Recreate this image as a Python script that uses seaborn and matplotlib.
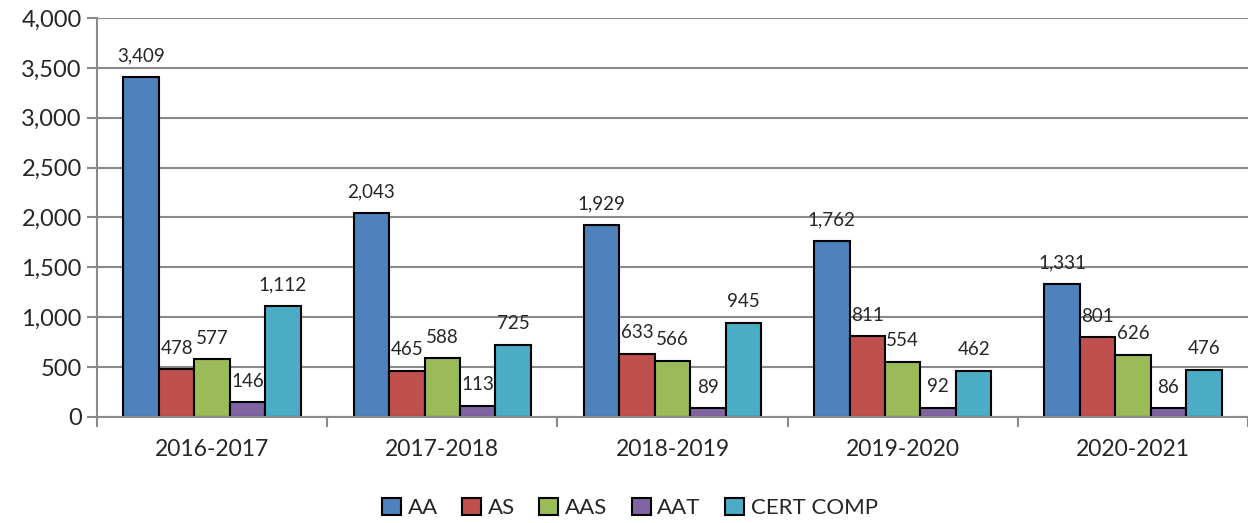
import pandas as pd
import numpy as np
import matplotlib
matplotlib.use("Agg")
import matplotlib.pyplot as plt
import seaborn as sns
from matplotlib.ticker import FuncFormatter, MultipleLocator

# ---- data ----
years = ["2016-2017", "2017-2018", "2018-2019", "2019-2020", "2020-2021"]
aa = [3409, 2043, 1929, 1762, 1331]
as_ = [478, 465, 633, 811, 801]
aas = [577, 588, 566, 554, 626]
aat = [146, 113, 89, 92, 86]
cert = [1112, 725, 945, 462, 476]
degrees = ["AA", "AS", "AAS", "AAT", "CERT COMP"]
colors = ["#4F81BD", "#C0504D", "#9BBB59", "#8064A2", "#4BACC6"]

df = pd.DataFrame({"Year": years, "AA": aa, "AS": as_, "AAS": aas,
                   "AAT": aat, "CERT COMP": cert})
long = df.melt(id_vars="Year", var_name="Degree", value_name="Count")

sns.set_style("white")
plt.rcParams["font.family"] = ["Lato", "DejaVu Sans"]

fig = plt.figure(figsize=(12.48, 5.23), dpi=100)
ax = fig.add_axes([0.0777, 0.2027, 0.9223, 0.7629])

sns.barplot(data=long, x="Year", y="Count", hue="Degree", hue_order=degrees,
            palette=colors, width=0.77, edgecolor="black", linewidth=1.5,
            saturation=1, ax=ax, legend=True)

for cont in ax.containers:
    ax.bar_label(cont, labels=[f"{v:,.0f}" for v in cont.datavalues],
                 padding=9, fontsize=13.5)

ax.set_ylim(0, 4000)
ax.set_xlim(-0.5, 4.5)
ax.yaxis.set_major_locator(MultipleLocator(500))
ax.yaxis.set_major_formatter(FuncFormatter(lambda v, p: f"{v:,.0f}"))
ax.grid(axis="y", color="#8a8a8a", linewidth=1.5)
ax.set_axisbelow(True)
ax.set_xlabel("")
ax.set_ylabel("")

for s in ["top", "right"]:
    ax.spines[s].set_visible(False)
for s in ["left", "bottom"]:
    ax.spines[s].set_color("#8a8a8a")
    ax.spines[s].set_linewidth(1.5)

ax.tick_params(axis="y", labelsize=17, length=7, width=1.5, color="#8a8a8a",
               direction="out", left=True, pad=4)
ax.tick_params(axis="x", which="major", labelsize=16.5, length=0, pad=16)
ax.set_xticks(np.arange(-0.5, 5.0, 1.0), minor=True)
ax.tick_params(axis="x", which="minor", length=7, width=1.5, color="#8a8a8a",
               direction="out", bottom=True)

leg = ax.legend(loc="center", bbox_to_anchor=(0.463, -0.228), ncol=5,
                frameon=False, fontsize=16, handlelength=0.85, handleheight=0.85,
                handletextpad=0.3, columnspacing=1.1)
for h in leg.legend_handles:
    h.set_edgecolor("black")
    h.set_linewidth(1.5)

fig.savefig("out.png", dpi=100)
